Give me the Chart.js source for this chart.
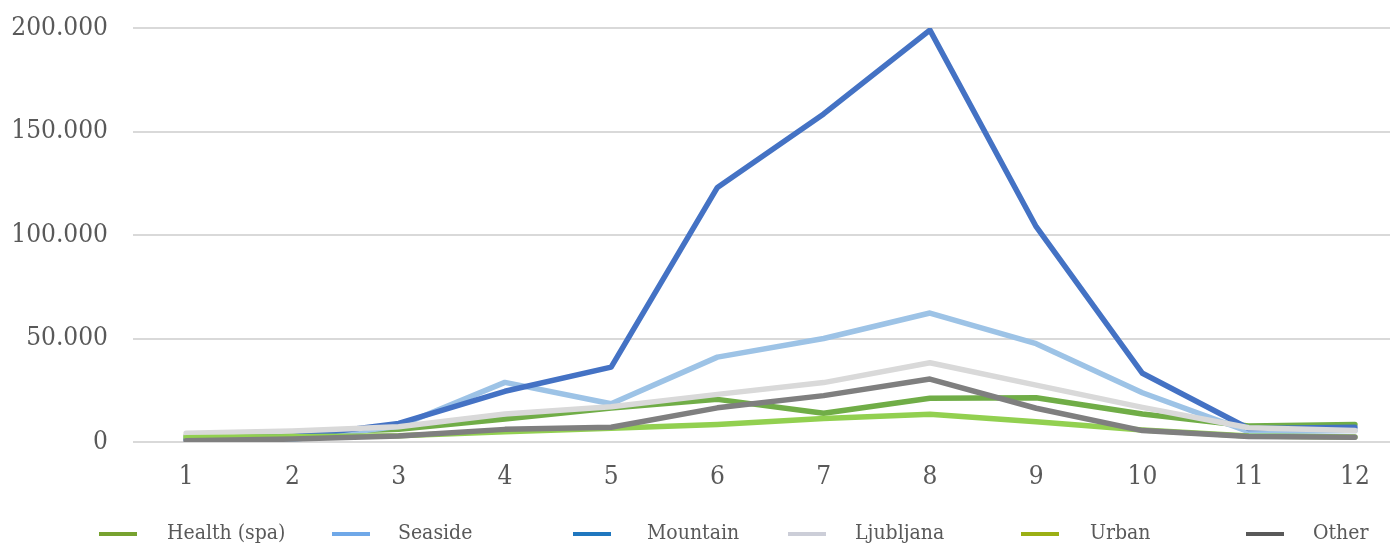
<!DOCTYPE html>
<html>
<head>
<meta charset="utf-8">
<script src="https://cdn.jsdelivr.net/npm/chart.js@4/dist/chart.umd.min.js"></script>
<style>
  html, body { margin: 0; padding: 0; background: #fff; }
  #wrap { position: relative; width: 1399px; height: 544px; }
  #c { position: absolute; left: 0; top: 0; }
  .lm { position: absolute; top: 532px; width: 38px; height: 4px; }
  .lt { position: absolute; top: 522px; height: 21px; font-family: 'DejaVu Serif Condensed', 'DejaVu Serif', serif; font-stretch: condensed; font-size: 21px; color: #595959; line-height: 21px; white-space: nowrap; }
</style>
</head>
<body>
<div id="wrap">
  <canvas id="c" width="1399" height="544"></canvas>
  <div id="legend"></div>
</div>
<script>
const categories = [1, 2, 3, 4, 5, 6, 7, 8, 9, 10, 11, 12];
const seriesNames = ['Health (spa)', 'Seaside', 'Mountain', 'Ljubljana', 'Urban', 'Other'];
const health    = [2900, 4500, 6100, 11100, 16400, 20600, 13900, 21100, 21400, 13500, 7700, 8500];
const seaside   = [1000, 1200, 7600, 28800, 18500, 41000, 50000, 62300, 47500, 23800, 5000, 5500];
const mountain  = [1500, 2500, 9000, 24500, 36200, 123000, 158500, 199000, 104000, 33200, 6500, 7100];
const ljubljana = [4200, 5300, 7400, 13500, 17000, 23000, 28700, 38300, 27500, 16700, 6900, 5500];
const urban     = [2000, 2500, 3000, 5000, 6700, 8500, 11400, 13400, 9800, 5800, 2900, 2400];
const other     = [600, 1400, 2900, 6100, 7100, 16500, 22400, 30400, 16300, 5500, 2600, 2300];
const yTicks = [0, 50000, 100000, 150000, 200000];

const seriesValues = [health, seaside, mountain, ljubljana, urban, other];
const lineColors = ['#70AD47', '#9DC3E6', '#4472C4', '#D9D9D9', '#92D050', '#7F7F7F'];
const legendColors = ['#77A22F', '#6FA8E8', '#1F77BF', '#CCCED8', '#9BAF14', '#595959'];
const legendMarkX = [99, 332, 573, 788, 1021, 1246];
const legendTextX = [167, 398, 647, 855, 1090, 1313];

const fmt = v => String(Math.round(v)).replace(/\B(?=(\d{3})+(?!\d))/g, '.');

const datasets = seriesNames.map((name, i) => ({
  label: name,
  data: categories.map((c, j) => ({ x: c, y: seriesValues[i][j] })),
  borderColor: lineColors[i],
  backgroundColor: lineColors[i],
  borderWidth: 5.5,
  pointRadius: 0,
  tension: 0,
  borderCapStyle: 'round',
  borderJoinStyle: 'round',
  order: seriesNames.length - 1 - i
}));

const tickFont = { family: "'DejaVu Serif Condensed', 'DejaVu Serif', serif", size: 26 };

new Chart(document.getElementById('c'), {
  type: 'line',
  data: { datasets },
  options: {
    responsive: false,
    animation: false,
    layout: { padding: { top: 28, right: 9, bottom: 50, left: 0 } },
    plugins: { legend: { display: false }, tooltip: { enabled: false } },
    scales: {
      x: {
        type: 'linear',
        min: 0.5,
        max: 12.33,
        grid: { display: false },
        border: { display: false },
        afterBuildTicks: s => { s.ticks = categories.map(v => ({ value: v })); },
        afterFit: s => { s.height = 52; s.paddingLeft = 0; s.paddingRight = 0; s.paddingTop = 0; s.paddingBottom = 0; },
        ticks: { color: '#595959', font: tickFont, padding: 12, maxRotation: 0, autoSkip: false, callback: v => String(v) }
      },
      y: {
        min: 0,
        max: 200000,
        afterBuildTicks: s => { s.ticks = yTicks.map(v => ({ value: v })); },
        afterFit: s => { s.width = 133; s.paddingTop = 0; s.paddingBottom = 0; s.paddingLeft = 0; s.paddingRight = 0; },
        grid: { color: '#D9D9D9', lineWidth: 2, drawTicks: false },
        border: { display: false },
        ticks: { color: '#595959', font: tickFont, padding: 25, callback: v => fmt(v) }
      }
    }
  }
});

const legend = document.getElementById('legend');
seriesNames.forEach((name, i) => {
  const m = document.createElement('div');
  m.className = 'lm';
  m.style.left = legendMarkX[i] + 'px';
  m.style.background = legendColors[i];
  legend.appendChild(m);
  const t = document.createElement('div');
  t.className = 'lt';
  t.style.left = legendTextX[i] + 'px';
  t.textContent = name;
  legend.appendChild(t);
});
</script>
</body>
</html>
